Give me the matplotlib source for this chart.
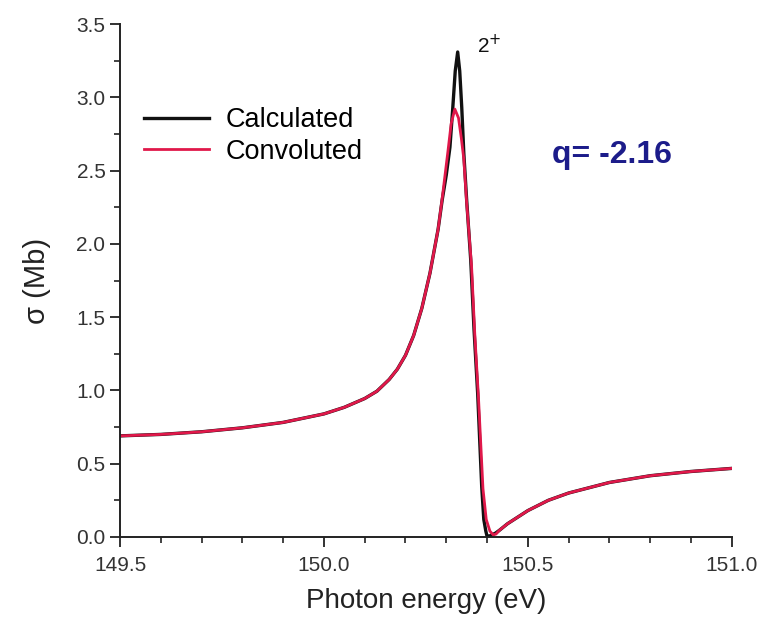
import matplotlib
matplotlib.use("Agg")
import matplotlib.pyplot as plt
from matplotlib.ticker import MultipleLocator, FormatStrFormatter

plt.rcParams["font.family"] = ["Liberation Sans", "DejaVu Sans"]

# values
energy_calc = [149.50, 149.60, 149.70, 149.80, 149.90, 150.00, 150.05, 150.10,
               150.13, 150.16, 150.18, 150.20, 150.22, 150.24, 150.26, 150.28,
               150.29, 150.300, 150.309, 150.316, 150.322, 150.328, 150.333,
               150.338, 150.343, 150.350, 150.360, 150.368, 150.377, 150.387,
               150.392, 150.397, 150.400, 150.405, 150.412, 150.420, 150.430,
               150.450, 150.50, 150.55, 150.60, 150.70, 150.80, 150.90, 151.00]
sigma_calc = [0.690, 0.700, 0.718, 0.745, 0.782, 0.840, 0.885, 0.945,
              0.995, 1.075, 1.145, 1.240, 1.375, 1.560, 1.800, 2.100,
              2.300, 2.470, 2.660, 2.930, 3.180, 3.310, 3.180,
              2.930, 2.620, 2.300, 1.890, 1.420, 0.980, 0.340,
              0.120, 0.040, 0.005, 0.005, 0.015, 0.025, 0.045,
              0.090, 0.180, 0.250, 0.300, 0.372, 0.418, 0.447, 0.468]

energy_conv = [149.50, 149.60, 149.70, 149.80, 149.90, 150.00, 150.05, 150.10,
               150.13, 150.16, 150.18, 150.20, 150.22, 150.24, 150.26, 150.28,
               150.29, 150.297, 150.304, 150.312, 150.321, 150.330, 150.337,
               150.343, 150.350, 150.362, 150.370, 150.379, 150.390, 150.398,
               150.407, 150.415, 150.422, 150.430, 150.450,
               150.50, 150.55, 150.60, 150.70, 150.80, 150.90, 151.00]
sigma_conv = [0.690, 0.700, 0.718, 0.745, 0.782, 0.840, 0.885, 0.945,
              0.995, 1.075, 1.145, 1.240, 1.375, 1.560, 1.800, 2.100,
              2.310, 2.470, 2.630, 2.820, 2.920, 2.860, 2.720,
              2.580, 2.280, 1.850, 1.380, 0.950, 0.330, 0.120,
              0.040, 0.015, 0.020, 0.045, 0.090,
              0.180, 0.250, 0.300, 0.372, 0.418, 0.447, 0.468]

fig = plt.figure(figsize=(7.67, 6.19), dpi=100)
ax = fig.add_axes([0.1565, 0.1325, 0.7975, 0.8285])

ax.plot(energy_calc, sigma_calc, color="#111111", lw=2.4, label="Calculated")
ax.plot(energy_conv, sigma_conv, color="#e0184a", lw=2.0, label="Convoluted")

ax.set_xlim(149.5, 151.0)
ax.set_ylim(0, 3.5)
ax.xaxis.set_major_locator(MultipleLocator(0.5))
ax.xaxis.set_minor_locator(MultipleLocator(0.1))
ax.yaxis.set_major_locator(MultipleLocator(0.5))
ax.yaxis.set_minor_locator(MultipleLocator(0.25))
ax.xaxis.set_major_formatter(FormatStrFormatter("%.1f"))
ax.yaxis.set_major_formatter(FormatStrFormatter("%.1f"))

for s in ["top", "right"]:
    ax.spines[s].set_visible(False)
for s in ["left", "bottom"]:
    ax.spines[s].set_linewidth(1.4)
    ax.spines[s].set_color("#222222")
ax.tick_params(which="major", direction="out", length=7, width=1.3,
               labelsize=15, labelcolor="#333333", color="#222222")
ax.tick_params(axis="x", which="major", pad=7)
ax.tick_params(which="minor", direction="out", length=4, width=1.2, color="#222222")

ax.set_xlabel("Photon energy (eV)", fontsize=20, color="#222222", labelpad=9)
ax.set_ylabel("σ (Mb)", fontsize=21, color="#222222", labelpad=18)

ax.text(150.375, 3.30, "2$^{+}$", fontsize=15, color="#111111")
ax.text(150.559, 2.55, "q= -2.16", fontsize=23, fontweight="bold", color="#1c1c8a")

ax.legend(loc="upper left", bbox_to_anchor=(0.0, 0.885), frameon=False,
          fontsize=19.5, handlelength=2.4, labelspacing=0.2, handletextpad=0.6)

fig.savefig("out.png", dpi=100)
